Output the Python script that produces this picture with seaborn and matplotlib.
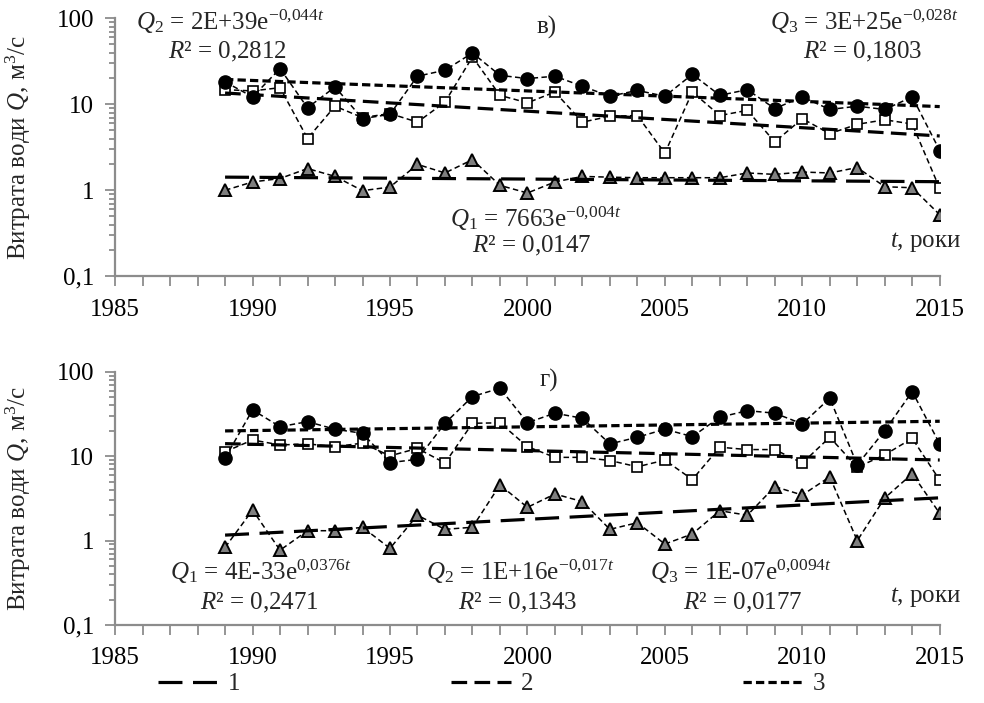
import matplotlib
matplotlib.use("Agg")
import matplotlib.pyplot as plt
import matplotlib.ticker as mticker
from matplotlib.lines import Line2D
import seaborn as sns
import numpy as np

years = list(range(1989, 2016))

# panel "в)"
top_q1 = [1.0, 1.25, 1.37, 1.79, 1.45, 0.99, 1.09, 2.0, 1.59, 2.27, 1.14, 0.93, 1.25, 1.45,
          1.42, 1.4, 1.4, 1.4, 1.4, 1.59, 1.53, 1.63, 1.59, 1.84, 1.1, 1.07, 0.52]
top_q2 = [14.8, 14.3, 15.6, 4.0, 9.5, 7.0, 7.8, 6.2, 10.6, 35.5, 12.7, 10.4, 13.9, 6.2,
          7.25, 7.4, 2.7, 13.9, 7.4, 8.5, 3.65, 6.8, 4.56, 5.85, 6.6, 5.9, 1.05]
top_q3 = [18.2, 12.2, 26.0, 9.1, 15.9, 6.8, 7.65, 21.2, 24.9, 39.5, 21.7, 19.9, 21.2, 16.2,
          12.4, 14.5, 12.4, 22.3, 12.7, 14.8, 8.9, 12.2, 8.7, 9.5, 8.7, 12.2, 2.9]

# panel "г)"
bot_q1 = [0.83, 2.3, 0.77, 1.31, 1.31, 1.44, 0.81, 2.0, 1.36, 1.44, 4.57, 2.48, 3.57, 2.9,
          1.36, 1.63, 0.91, 1.2, 2.26, 2.0, 4.36, 3.47, 5.7, 1.0, 3.2, 6.2, 2.1]
bot_q2 = [11.3, 15.6, 13.6, 14.0, 13.0, 14.3, 10.1, 12.4, 8.3, 24.6, 24.9, 13.0, 9.7, 9.7,
          8.9, 7.5, 9.0, 5.3, 12.8, 12.0, 12.0, 8.3, 16.8, 7.4, 10.4, 16.3, 5.2]
bot_q3 = [9.5, 35.4, 22.4, 25.7, 20.9, 18.7, 8.4, 9.2, 24.6, 51.0, 64.0, 25.0, 32.4, 28.2,
          14.0, 16.8, 20.9, 17.1, 29.0, 34.7, 32.4, 24.2, 48.7, 7.9, 20.1, 58.4, 14.0]

ytick_vals = [0.1, 1, 10, 100]
ytick_labels = ["0,1", "1", "10", "100"]
legend_labels = ["1", "2", "3"]

sns.set_theme(style="ticks")
plt.rcParams["font.family"] = ["Liberation Serif", "DejaVu Serif"]
plt.rcParams["mathtext.fontset"] = "custom"
plt.rcParams["mathtext.rm"] = "Liberation Serif"
plt.rcParams["mathtext.it"] = "Liberation Serif:italic"
plt.rcParams["mathtext.bf"] = "Liberation Serif:bold"

W, H = 984, 703
FS = 18
GREY = "#8c8c8c"

fig = plt.figure(figsize=(W / 100, H / 100), dpi=100)
ax1 = fig.add_axes([0.117, 0.607, 0.838, 0.367])
ax2 = fig.add_axes([0.117, 0.111, 0.838, 0.360])

conn = (0, (3.6, 2.2))
trend_styles = [(0, (7.5, 3.3)), (0, (4.9, 2.3)), (0, (2.6, 1.3))]
markers = [
    dict(marker="^", markersize=8.5, markerfacecolor="#7f7f7f", markeredgecolor="black", markeredgewidth=1.4),
    dict(marker="s", markersize=7.5, markerfacecolor="white", markeredgecolor="black", markeredgewidth=1.2),
    dict(marker="o", markersize=9.5, markerfacecolor="black", markeredgecolor="black", markeredgewidth=1),
]


def draw_panel(ax, series):
    yr = np.array(years)
    for q, mk in zip(series, markers):
        sns.lineplot(x=years, y=q, ax=ax, color="black", linewidth=1.1,
                     linestyle=conn, zorder=3, **mk)
    for q, ls in zip(series, trend_styles):
        b, a = np.polyfit(yr, np.log(q), 1)
        fit = np.exp(a + b * yr)
        sns.lineplot(x=years, y=fit, ax=ax, color="black", linewidth=2.3,
                     linestyle=ls, zorder=4)
    ax.set_yscale("log")
    ax.set_xlim(1985, 2015)
    ax.set_ylim(0.1, 100)
    ax.set_yticks(ytick_vals)
    ax.set_yticklabels(ytick_labels)
    ax.yaxis.set_minor_locator(mticker.LogLocator(base=10, subs=np.arange(2, 10)))
    ax.yaxis.set_minor_formatter(mticker.NullFormatter())
    ax.xaxis.set_major_locator(mticker.MultipleLocator(5))
    ax.xaxis.set_minor_locator(mticker.MultipleLocator(1))
    for s in ["top", "right"]:
        ax.spines[s].set_visible(False)
    for s in ["left", "bottom"]:
        ax.spines[s].set_color(GREY)
        ax.spines[s].set_linewidth(1.6)
    ax.tick_params(axis="both", which="both", direction="out", color=GREY,
                   labelcolor="black", labelsize=FS, width=1.3)
    ax.tick_params(axis="x", which="both", length=7, pad=9)
    ax.tick_params(axis="y", which="major", length=7, pad=8)
    ax.tick_params(axis="y", which="minor", length=4)
    ax.set_xlabel("")
    ax.set_ylabel("Витрата води $Q$, м$^3$/с", fontsize=FS)
    ax.yaxis.set_label_coords(-0.10, 0.5)


draw_panel(ax1, [top_q1, top_q2, top_q3])
draw_panel(ax2, [bot_q1, bot_q2, bot_q3])


def put(x, y, s, **kw):
    fig.text(x / W, 1 - y / H, s, fontsize=FS, va="center", ha="left", **kw)


# panel "в)" annotations
put(136, 22, r"$Q_2$ = 2E+39e$^{-0{,}044t}$")
put(168, 52, r"$R$² = 0,2812")
put(537, 27, "в)")
put(770, 22, r"$Q_3$ = 3E+25e$^{-0{,}028t}$")
put(803, 52, r"$R$² = 0,1803")
put(450, 219, r"$Q_1$ = 7663e$^{-0{,}004t}$")
put(472, 246, r"$R$² = 0,0147")
put(890, 242, r"$t$, роки")

# panel "г)" annotations
put(540, 380, "г)")
put(170, 572, r"$Q_1$ = 4E-33e$^{0{,}0376t}$")
put(200, 603, r"$R$² = 0,2471")
put(426, 572, r"$Q_2$ = 1E+16e$^{-0{,}017t}$")
put(458, 603, r"$R$² = 0,1343")
put(650, 572, r"$Q_3$ = 1E-07e$^{0{,}0094t}$")
put(683, 603, r"$R$² = 0,0177")
put(890, 597, r"$t$, роки")

handles = [Line2D([0], [0], color="black", linewidth=2.3, linestyle=ls) for ls in trend_styles]
fig.legend(handles, legend_labels, loc="center", bbox_to_anchor=(0.5, 0.027), ncol=3,
           frameon=False, fontsize=FS, handlelength=2.4, handletextpad=0.4, columnspacing=8.4)

fig.savefig("out.png", dpi=100)
